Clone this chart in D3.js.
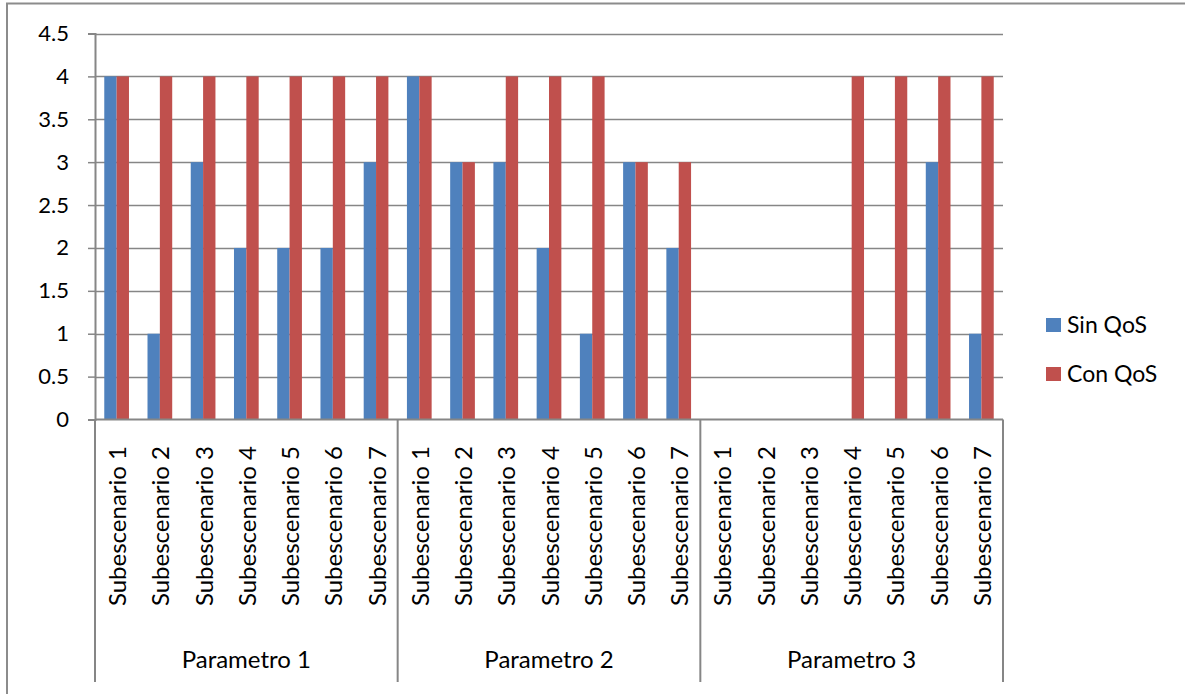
<!DOCTYPE html>
<html>
<head>
<meta charset="utf-8">
<script src="https://cdn.jsdelivr.net/npm/d3@7"></script>
<style>
  html, body { margin: 0; padding: 0; background: #fff; }
  svg { display: block; }
  text { font-family: Lato, "Open Sans", sans-serif; fill: #000; }
</style>
</head>
<body>
<svg id="chart" width="1185" height="694"></svg>
<script>
// Groups and sub-scenarios on the category axis
const parametros = ["Parametro 1", "Parametro 2", "Parametro 3"];
const subescenarios = ["Subescenario 1", "Subescenario 2", "Subescenario 3", "Subescenario 4",
                       "Subescenario 5", "Subescenario 6", "Subescenario 7"];
// Series values, one row per Parametro
const sinQoS = [
  [4, 1, 3, 2, 2, 2, 3],
  [4, 3, 3, 2, 1, 3, 2],
  [0, 0, 0, 0, 0, 3, 1]
];
const conQoS = [
  [4, 4, 4, 4, 4, 4, 4],
  [4, 3, 4, 4, 4, 3, 3],
  [0, 0, 0, 4, 4, 4, 4]
];
const seriesNames = ["Sin QoS", "Con QoS"];
const seriesColors = ["#4F81BD", "#C0504D"];
const yTicks = [0, 0.5, 1, 1.5, 2, 2.5, 3, 3.5, 4, 4.5];

const svg = d3.select("#chart");
const gridColor = "#868686";

// Outer frame (left and top edges visible)
svg.append("path")
  .attr("d", "M7,694 L7,3.5 L1185,3.5")
  .attr("fill", "none").attr("stroke", "#8c8c8c").attr("stroke-width", 2);

const plotLeft = 95, plotRight = 1003, plotTop = 33.5, plotBottom = 419.5, axisBottom = 682;

// Flattened categories: one per (parametro, subescenario)
const cats = [];
parametros.forEach((p, gi) => subescenarios.forEach((s, si) => {
  cats.push({ key: gi + "-" + si, gi, si, label: s, vals: [sinQoS[gi][si], conQoS[gi][si]] });
}));

const x = d3.scaleBand().domain(cats.map(d => d.key)).range([plotLeft, plotRight]).padding(0);
// Gap width 150%: each bar = bandwidth / 3.5, pair centered in the band
const barW = x.bandwidth() / 3.5;
const y = d3.scaleLinear().domain([0, 4.5]).range([plotBottom, plotTop]);

// Gridlines
svg.append("g").selectAll("line").data(yTicks.filter(t => t > 0)).join("line")
  .attr("x1", plotLeft).attr("x2", plotRight)
  .attr("y1", d => Math.round(y(d)) + 0.5).attr("y2", d => Math.round(y(d)) + 0.5)
  .attr("stroke", gridColor).attr("stroke-width", 1.5);

// Bars
const groups = svg.append("g").selectAll("g").data(cats).join("g")
  .attr("transform", d => `translate(${x(d.key)},0)`);
groups.selectAll("rect").data(d => d.vals.map((v, i) => ({ v, i }))).join("rect")
  .attr("x", d => x.bandwidth() / 2 - barW + d.i * barW)
  .attr("width", barW)
  .attr("y", d => y(d.v))
  .attr("height", d => y(0) - y(d.v))
  .attr("fill", d => seriesColors[d.i]);

// Y axis
const yAxis = d3.axisLeft(y).tickValues(yTicks).tickSize(7).tickPadding(19)
  .tickFormat(d => String(d));
const yg = svg.append("g").attr("transform", `translate(${plotLeft},0)`).call(yAxis);
yg.select(".domain").attr("stroke", gridColor).attr("stroke-width", 2);
yg.selectAll(".tick line").attr("stroke", gridColor).attr("stroke-width", 1.5);
yg.selectAll(".tick text").attr("font-size", 22).attr("font-family", "Lato, sans-serif").attr("fill", "#000");

// Category axis baseline
svg.append("line").attr("x1", plotLeft).attr("x2", plotRight)
  .attr("y1", plotBottom).attr("y2", plotBottom)
  .attr("stroke", gridColor).attr("stroke-width", 2);

// Group separators
const sepX = [0, 7, 14, 21].map(i => i < 21 ? x(cats[i].key) : plotRight);
svg.append("g").selectAll("line").data(sepX).join("line")
  .attr("x1", d => d).attr("x2", d => d)
  .attr("y1", plotBottom).attr("y2", axisBottom)
  .attr("stroke", gridColor).attr("stroke-width", 2);

// Rotated sub-scenario labels
svg.append("g").selectAll("text").data(cats).join("text")
  .attr("transform", d => `translate(${x(d.key) + x.bandwidth() / 2},${446}) rotate(-90)`)
  .attr("text-anchor", "end")
  .attr("dominant-baseline", "central")
  .attr("font-size", 24)
  .text(d => d.label);

// Parametro labels
svg.append("g").selectAll("text").data(parametros).join("text")
  .attr("x", (d, i) => (sepX[i] + sepX[i + 1]) / 2)
  .attr("y", 668)
  .attr("text-anchor", "middle")
  .attr("font-size", 24)
  .text(d => d);

// Legend
const legend = svg.append("g").selectAll("g").data(seriesNames).join("g")
  .attr("transform", (d, i) => `translate(1046,${318 + i * 49})`);
legend.append("rect").attr("width", 15).attr("height", 14)
  .attr("fill", (d, i) => seriesColors[i]);
legend.append("text").attr("x", 21).attr("y", 14.5)
  .attr("font-size", 23)
  .text(d => d);
</script>
</body>
</html>
